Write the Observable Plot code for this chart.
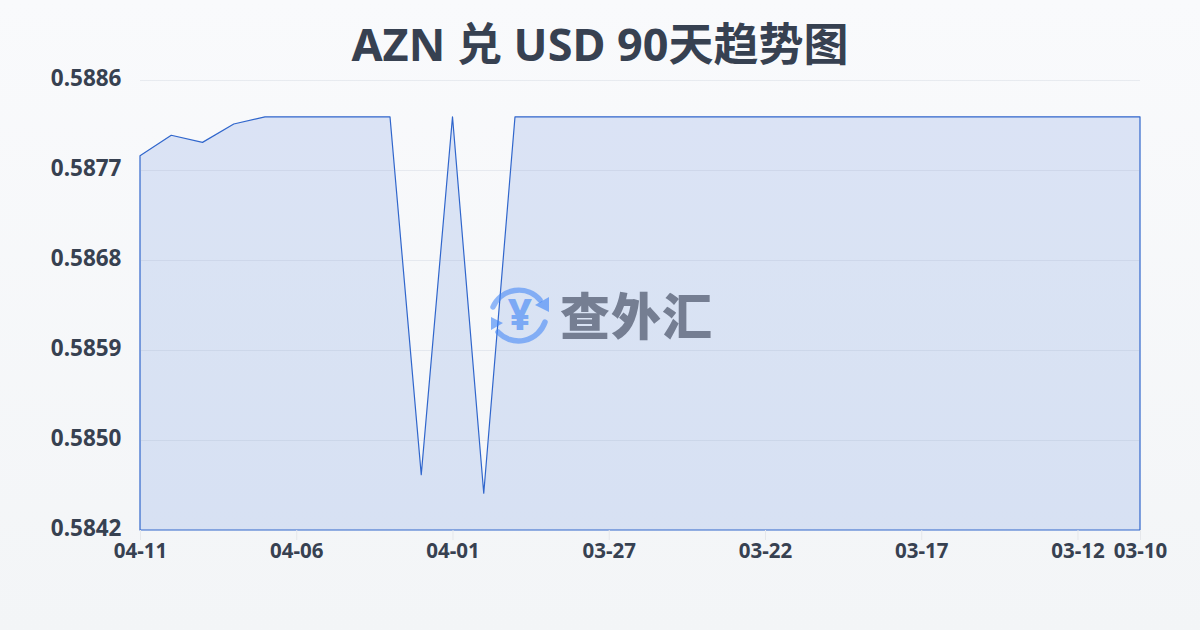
<!DOCTYPE html>
<html lang="zh">
<head>
<meta charset="utf-8">
<script src="https://cdn.jsdelivr.net/npm/d3@7"></script>
<script src="https://cdn.jsdelivr.net/npm/@observablehq/plot@0.6"></script>
<style>
html,body{margin:0;padding:0}
#page{position:relative;width:1200px;height:630px;overflow:hidden;background:linear-gradient(180deg,#f9fafc 0%,#f3f5f7 100%);font-family:"Noto Sans","Noto Sans CJK SC",sans-serif}
#title{margin:0;height:60px;padding:14px 0 0;line-height:60px;text-align:center;font-size:45px;font-weight:700;color:#374151;white-space:nowrap;box-sizing:content-box;margin-bottom:-14px}
#chart svg{display:block;background:transparent}
#wm{position:absolute;left:489px;top:285px;width:230px;height:60px;pointer-events:none}
#wm svg{position:absolute;left:0;top:0}
#wm span{position:absolute;left:71px;top:-3px;font:900 50px/62px "Noto Sans CJK SC",sans-serif;color:#6b7488;opacity:.9;white-space:nowrap;letter-spacing:1px}
</style>
</head>
<body>
<div id="page">
<h1 id="title">AZN 兑 USD 90天趋势图</h1>
<div id="chart"></div>
<div id="wm">
<svg width="62" height="60" viewBox="0 0 62 60" fill="none">
<g stroke="#3b82f6" stroke-opacity=".55" stroke-width="5.5" stroke-linecap="round">
<path d="M4 22 A28 28 0 0 1 51 15"/>
<path d="M56 37 A28 28 0 0 1 9 47"/>
</g>
<path d="M60 12 L60 27 L46 20 Z M2 32 L2 45 L14 38 Z" fill="#3b82f6" fill-opacity=".6"/>
<text x="31" y="45" text-anchor="middle" font-family="Noto Sans" font-weight="800" font-size="42" fill="#3b82f6" fill-opacity=".6">¥</text>
</svg>
<span>查外汇</span>
</div>
</div>
<script>
const dates = ["04-11","04-10","04-09","04-08","04-07","04-06","04-05","04-04","04-03","04-02","04-01","03-31","03-30","03-29","03-28","03-27","03-26","03-25","03-24","03-23","03-22","03-21","03-20","03-19","03-18","03-17","03-16","03-15","03-14","03-13","03-12","03-11","03-10"];
const rates = [0.58782,0.58802,0.58795,0.58813,0.5882,0.5882,0.5882,0.5882,0.5882,0.5847,0.5882,0.58452,0.5882,0.5882,0.5882,0.5882,0.5882,0.5882,0.5882,0.5882,0.5882,0.5882,0.5882,0.5882,0.5882,0.5882,0.5882,0.5882,0.5882,0.5882,0.5882,0.5882,0.5882];
const xTicks = ["04-11","04-06","04-01","03-27","03-22","03-17","03-12","03-10"];
const yTicks = [0.58856,0.58768,0.5868,0.58592,0.58504,0.58416];
const rows = dates.map((d,i)=>({date:d,rate:rates[i]}));

const chart = Plot.plot({
  width:1200,height:570,
  marginTop:20,marginBottom:100,marginLeft:140,marginRight:60,
  style:{background:"transparent",fontFamily:'"Noto Sans",sans-serif',overflow:"visible"},
  x:{type:"point",domain:dates,padding:0,round:false,label:null},
  y:{domain:[0.58416,0.58856],label:null},
  marks:[
    Plot.areaY(rows,{x:"date",y1:0.58416,y2:"rate",fill:"#2b63d6",fillOpacity:.14,stroke:"#3066cc",strokeWidth:1.2}),
    Plot.ruleY(yTicks.slice(0,-1),{stroke:"#94a3b8",strokeOpacity:.17,strokeWidth:1}),
    Plot.axisY({ticks:yTicks,tickFormat:d3.format(".4f"),tickSize:0,tickPadding:19,fontSize:22.5,fontWeight:700,fill:"#374151",label:null,dy:-2}),
    Plot.axisX({ticks:xTicks,tickSize:10,tickPadding:3,stroke:"#e5e7eb",fill:"#374151",fontSize:20.5,fontWeight:700,label:null})
  ]
});
document.getElementById("chart").appendChild(chart);
</script>
</body>
</html>
